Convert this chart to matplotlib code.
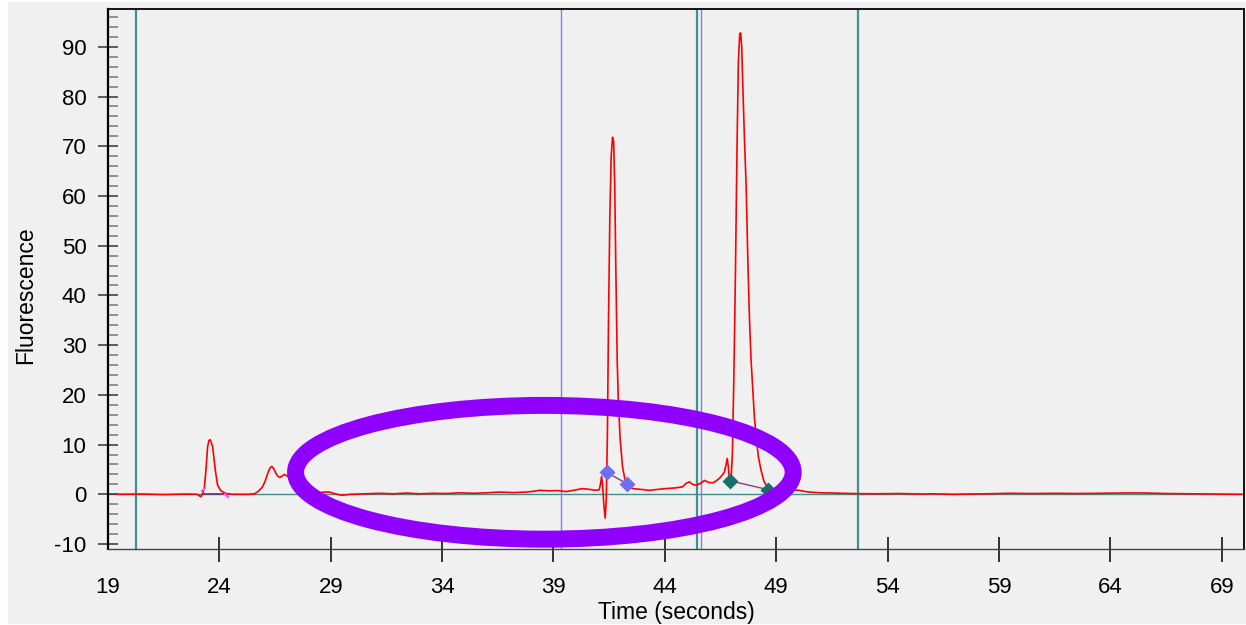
import matplotlib.pyplot as plt
from matplotlib.patches import Ellipse, Rectangle
from matplotlib.ticker import MultipleLocator, FixedLocator

plt.rcParams['font.family'] = ['Liberation Sans', 'DejaVu Sans']
plt.rcParams['axes.unicode_minus'] = False

# trace
time_s = [19.42, 20.5, 21.5, 22.5, 23.0, 23.1, 23.18, 23.26, 23.33, 23.40, 23.47, 23.53,
          23.58, 23.64, 23.70, 23.76, 23.82, 23.92, 24.07, 24.3, 24.6, 25.3, 25.58, 25.75,
          25.94, 26.05, 26.17, 26.27, 26.35, 26.45, 26.54, 26.63, 26.72, 26.82, 26.92, 27.1,
          27.3, 27.6, 27.9, 28.2, 28.48, 28.7, 28.94, 29.2, 29.5, 29.9, 30.6, 31.2, 31.8,
          32.4, 33.0, 33.6, 34.2, 34.8, 35.4, 36.0, 36.57, 37.2, 37.77, 38.1, 38.37, 38.8,
          39.2, 39.56, 39.9, 40.3, 40.6, 40.9, 41.05, 41.1, 41.16, 41.21, 41.26, 41.32,
          41.37, 41.42, 41.47, 41.53, 41.59, 41.65, 41.70, 41.75, 41.80, 41.86, 41.91,
          41.99, 42.10, 42.26, 42.4, 42.56, 42.9, 43.3, 43.7, 44.05, 44.5, 44.8, 44.95,
          45.1, 45.25, 45.4, 45.6, 45.78, 45.95, 46.15, 46.3, 46.45, 46.6, 46.67, 46.75,
          46.80, 46.85, 46.90, 46.97, 47.03, 47.10, 47.17, 47.24, 47.30, 47.36, 47.40,
          47.45, 47.50, 47.57, 47.65, 47.72, 47.8, 47.87, 47.94, 48.02, 48.1, 48.2, 48.32,
          48.45, 48.6, 48.8, 49.1, 49.5, 50.04, 50.3, 50.64, 51.0, 51.4, 52.0, 52.6, 53.5,
          54.5, 55.5, 56.0, 57.0, 57.5, 58.5, 59.5, 60.5, 61.5, 62.5, 63.5, 64.7, 65.5,
          66.5, 67.5, 68.5, 69.9]
fluorescence = [0.0, 0.05, -0.05, 0.05, 0.0, -0.3, -0.5, 0.3, 1.5, 5.0, 9.5, 10.8,
                11.0, 10.4, 9.5, 7.2, 4.8, 1.8, 0.7, 0.15, 0.0, 0.0, 0.1, 0.6,
                1.5, 2.6, 4.2, 5.3, 5.6, 5.1, 4.2, 3.6, 3.4, 3.7, 4.0, 3.5,
                2.6, 1.5, 0.8, 0.4, 0.3, 0.45, 0.45, 0.1, -0.2, 0.0, 0.1, 0.2, 0.1,
                0.25, 0.1, 0.2, 0.15, 0.3, 0.2, 0.3, 0.45, 0.35, 0.45, 0.6, 0.8, 0.7,
                0.75, 0.55, 0.8, 1.15, 1.0, 0.8, 0.9, 1.8, 3.6, 1.5, -2.0, -4.8,
                -1.0, 12, 35, 56, 68, 71.8, 71.0, 62, 45, 27, 18.9,
                11.3, 5.5, 1.8, 1.4, 1.15, 1.0, 0.8, 1.0, 1.15, 1.3, 1.5, 2.2,
                2.5, 2.0, 1.8, 2.2, 2.8, 2.4, 2.3, 2.7, 3.2, 4.0, 4.5, 6.0,
                7.2, 5.5, 3.0, 2.8, 8, 24, 45, 70, 87, 92.5, 92.8,
                90, 82, 72, 61.9, 48, 35, 27, 21.6, 15.5, 11.5, 7.5, 4.8,
                2.6, 1.5, 1.1, 1.0, 0.9, 0.8, 0.55, 0.4, 0.3, 0.27, 0.2, 0.13, 0.1,
                0.15, 0.05, 0.1, 0.0, 0.05, 0.1, 0.2, 0.15, 0.2, 0.15, 0.2, 0.27, 0.27,
                0.15, 0.1, 0.05, 0.0]

teal_lines = [20.27, 45.46, 52.65]
blue_lines = [39.35, 45.6]

peak_a_t = [41.39, 42.29]
peak_a_f = [4.4, 2.15]
peak_b_t = [46.94, 48.62]
peak_b_f = [2.7, 0.95]
small_peak_t = [23.25, 24.3]
small_peak_f = [0.0, 0.0]

x_ticks = [24, 29, 34, 39, 44, 49, 54, 59, 64, 69]
x_labels = ['19', '24', '29', '34', '39', '44', '49', '54', '59', '64', '69']

bg = '#f0f0f0'
teal = '#3f918d'
blue = '#7c7cf5'

fig = plt.figure(figsize=(12.46, 6.25), dpi=100, facecolor='white')
fig.patches.append(Rectangle((8 / 1246, 2 / 625), 1 - 8 / 1246, 621 / 625,
                             transform=fig.transFigure, color=bg, zorder=-10))
ax = fig.add_axes([108 / 1246, 76 / 625, 1136 / 1246, 540 / 625])
ax.set_facecolor(bg)
ax.set_xlim(19, 70)
ax.set_ylim(-11, 97.6)

ax.axhline(0, color=teal, lw=1.0, zorder=1)
for t in teal_lines:
    ax.axvline(t, color=teal, lw=1.6, zorder=2)
for t in blue_lines:
    ax.axvline(t, color=blue, lw=1.0, zorder=2)

ax.plot(small_peak_t, small_peak_f, color='#7a1f8a', lw=1.2, zorder=3)
ax.plot(small_peak_t[0], 1.0, marker=(2, 2, -45), ms=4, mew=1.0, color='#ff50ff', zorder=4)
ax.plot(small_peak_t[1], -0.1, marker=(2, 2, 45), ms=4, mew=1.0, color='#ff50ff', zorder=4)

ax.plot(time_s, fluorescence, color='#ff0000', lw=1.2, zorder=3)

ax.plot(peak_a_t, peak_a_f, color='#8a3a8a', lw=1.0, zorder=4)
ax.plot(peak_a_t, peak_a_f, 'D', color='#6e6ef0', ms=8, mec='none', zorder=5)
ax.plot(peak_b_t, peak_b_f, color='#8a3a8a', lw=1.0, zorder=4)
ax.plot(peak_b_t, peak_b_f, 'D', color='#17706a', ms=8, mec='none', zorder=5)

ax.add_patch(Ellipse((38.59, 4.43), width=22.34, height=26.9, fill=False,
                     edgecolor='#9000ff', lw=12.2, zorder=6))

# axes styling
for side in ['top', 'right', 'left']:
    ax.spines[side].set_color('black')
ax.spines['left'].set_linewidth(1.6)
ax.spines['top'].set_linewidth(1.3)
ax.spines['right'].set_linewidth(1.3)
ax.spines['bottom'].set_color('#444444')
ax.spines['bottom'].set_linewidth(1.0)

ax.yaxis.set_major_locator(MultipleLocator(10))
ax.yaxis.set_minor_locator(MultipleLocator(2))
ax.tick_params(axis='y', which='major', direction='inout', length=15, width=1.1,
               color='#333333', labelsize=16, pad=8)
ax.tick_params(axis='y', which='minor', direction='in', length=7, width=1.3,
               color='#8a8a8a')

ax.xaxis.set_major_locator(FixedLocator([19] + x_ticks))
ax.set_xticklabels(x_labels)
ax.tick_params(axis='x', which='major', direction='inout', length=18, width=1.1,
               color='black', labelsize=16, pad=11)
ax.xaxis.get_major_ticks()[0].tick1line.set_visible(False)

ax.set_xlabel('Time (seconds)', fontsize=16.5)
ax.set_ylabel('Fluorescence', fontsize=16.5)
ax.xaxis.set_label_coords(0.5, -0.097)
ax.yaxis.set_label_coords(-0.062, 0.47)

fig.savefig('out.png', dpi=100, facecolor=fig.get_facecolor())
